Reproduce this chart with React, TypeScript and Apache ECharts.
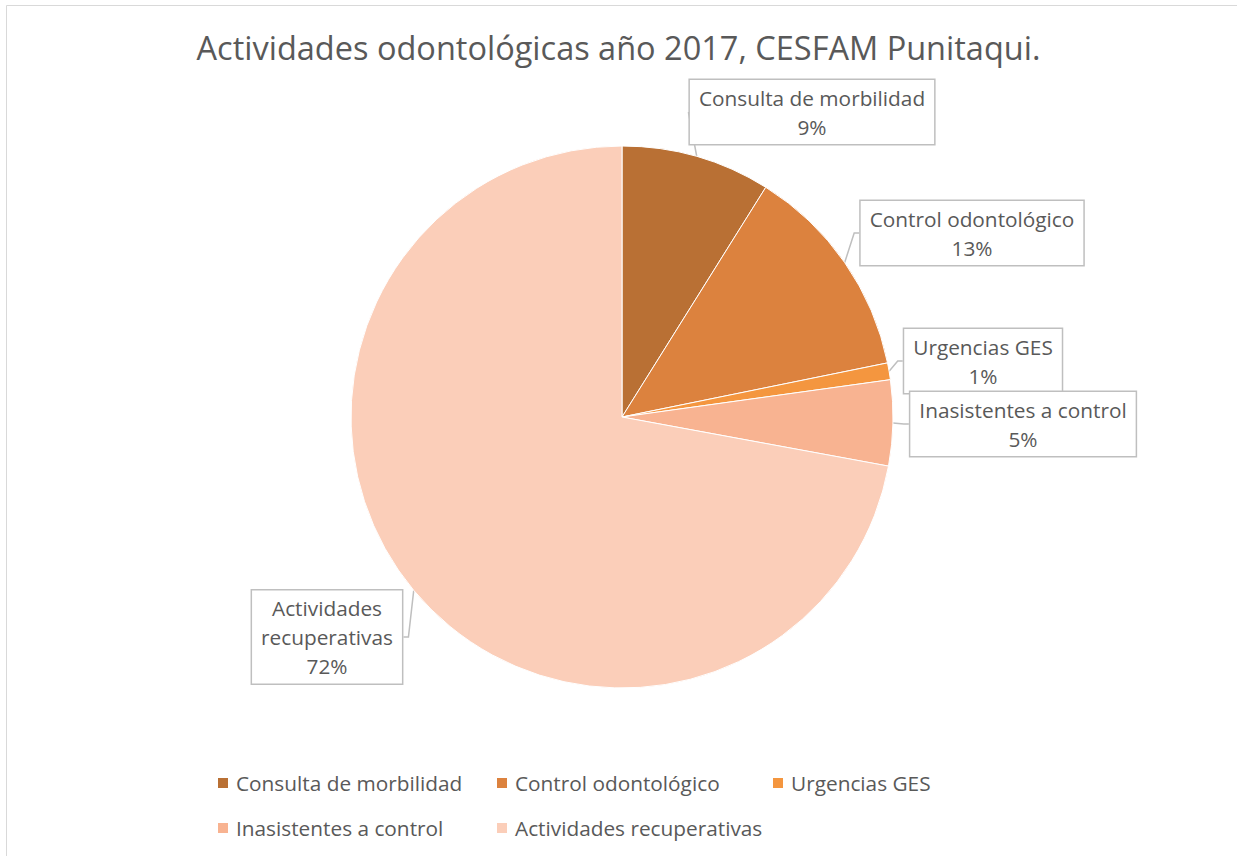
import React, { useEffect, useRef } from "react";
import * as echarts from "echarts";

const categories = [
  "Consulta de morbilidad",
  "Control odontológico",
  "Urgencias GES",
  "Inasistentes a control",
  "Actividades recuperativas",
];
const values = [8.9, 12.9, 1.0, 5.1, 72.1];
const colors = ["#B97034", "#DC823E", "#F4963F", "#F8B391", "#FBCEB9"];
const titleText = "Actividades odontológicas año 2017, CESFAM Punitaqui.";

// label box centers (callouts)
const labelCenters = [
  [812, 112],
  [972, 233],
  [983, 361],
  [1023, 424],
  [327, 637],
];

const FONT = "Open Sans";
const GRAY = "#595959";

export default function App() {
  const ref = useRef<HTMLDivElement>(null);
  useEffect(() => {
    if (!ref.current) return;
    const chart = echarts.init(ref.current, null, { renderer: "svg" });
    const legendCols = [
      { left: 216, data: [categories[0], categories[3]] },
      { left: 495, data: [categories[1], categories[4]] },
      { left: 771, data: [categories[2]] },
    ];
    chart.setOption({
      animation: false,
      backgroundColor: "#ffffff",
      textStyle: { fontFamily: FONT },
      title: {
        text: titleText,
        left: "center",
        top: 26,
        textStyle: { fontFamily: FONT, fontSize: 32.5, fontWeight: "normal", color: GRAY },
      },
      graphic: [
        {
          type: "rect",
          shape: { x: 6.5, y: 5.5, width: 1240, height: 860 },
          style: { fill: "none", stroke: "#d9d9d9", lineWidth: 1 },
          silent: true,
        },
      ],
      legend: legendCols.map((c) => ({
        orient: "vertical",
        left: c.left,
        top: 771,
        padding: 0,
        itemWidth: 12,
        itemHeight: 12,
        itemGap: 21,
        icon: "rect",
        data: c.data,
        textStyle: { fontFamily: FONT, fontSize: 20.8, color: GRAY, lineHeight: 24, padding: [0, 0, 0, 2] },
      })),
      series: [
        {
          type: "pie",
          center: [622, 417],
          radius: 271,
          startAngle: 90,
          clockwise: true,
          percentPrecision: 0,
          itemStyle: { borderColor: "#ffffff", borderWidth: 1 },
          label: {
            show: true,
            position: "outside",
            fontFamily: FONT,
            fontSize: 20.8,
            lineHeight: 29,
            color: GRAY,
            backgroundColor: "#ffffff",
            borderColor: "#bfbfbf",
            borderWidth: 1.5,
            padding: [3, 9, 3, 9],
            align: "center",
            formatter: (p: any) =>
              (p.dataIndex === 4 ? p.name.replace(" ", "\n") : p.name) + "\n" + p.percent + "%",
          },
          labelLine: {
            show: true,
            length: 5,
            length2: 5,
            lineStyle: { color: "#bfbfbf", width: 1.5 },
          },
          labelLayout: (params: any) => {
            const c = labelCenters[params.dataIndex];
            return { x: c[0], y: c[1], align: "center", verticalAlign: "middle" };
          },
          data: categories.map((name, i) => ({
            name,
            value: values[i],
            itemStyle: { color: colors[i] },
          })),
        },
      ],
    });
    return () => chart.dispose();
  }, []);
  return (
    <div
      ref={ref}
      style={{ position: "absolute", left: 0, top: 0, width: 1237, height: 856 }}
    />
  );
}
